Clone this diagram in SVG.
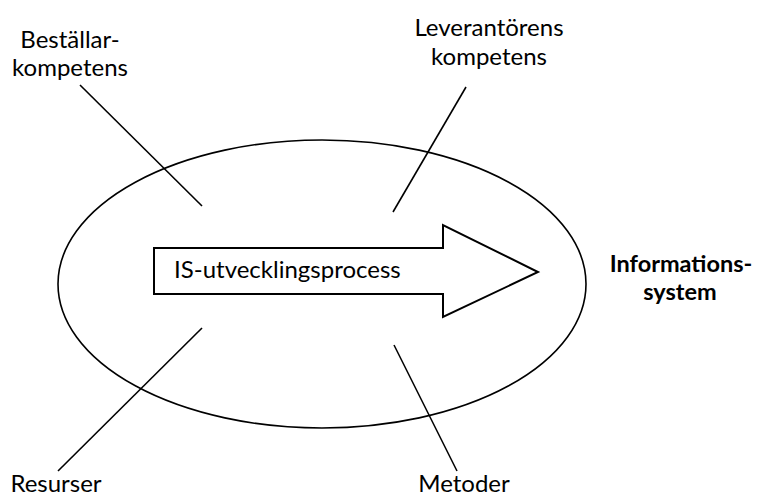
<svg xmlns="http://www.w3.org/2000/svg" width="758" height="498" viewBox="0 0 758 498">
  <style>
    .lbl { font-family: Lato, "Open Sans", "DejaVu Sans", sans-serif; font-size: 24px; fill: #000; text-anchor: middle; }
    .bold { font-weight: bold; font-size: 23.5px; }
    .ln { stroke: #000; stroke-width: 1.6; fill: none; stroke-linecap: butt; }
  </style>
  <rect width="758" height="498" fill="#fff"/>

  <!-- process boundary -->
  <g id="process-ellipse">
    <ellipse cx="322" cy="284" rx="264" ry="144" fill="none" stroke="#000" stroke-width="1.6"/>
  </g>

  <!-- connectors from the influencing factors into the process -->
  <g id="connectors">
    <line class="ln" x1="80" y1="85" x2="202" y2="206"/>
    <line class="ln" x1="466" y1="87" x2="393" y2="212"/>
    <line class="ln" x1="202" y1="328" x2="58" y2="471"/>
    <line class="ln" x1="394" y1="345" x2="457" y2="471"/>
  </g>

  <g id="process-arrow">
    <polygon points="154,248 443,248 443,225 538,272 443,317 443,294 154,294" fill="#fff" stroke="#000" stroke-width="2"/>
    <text class="lbl" x="174" y="278" style="text-anchor:start">IS-utvecklingsprocess</text>
  </g>

  <g id="bestallarkompetens">
    <text class="lbl" x="70" y="48">Beställar-</text>
    <text class="lbl" x="70" y="76">kompetens</text>
  </g>

  <g id="leverantorens-kompetens">
    <text class="lbl" x="489" y="36">Leverantörens</text>
    <text class="lbl" x="489" y="65">kompetens</text>
  </g>

  <g id="informationssystem">
    <text class="lbl bold" x="681" y="272">Informations-</text>
    <text class="lbl bold" x="680" y="300">system</text>
  </g>

  <g id="resurser">
    <text class="lbl" x="56" y="492">Resurser</text>
  </g>

  <g id="metoder">
    <text class="lbl" x="464" y="492">Metoder</text>
  </g>
</svg>
